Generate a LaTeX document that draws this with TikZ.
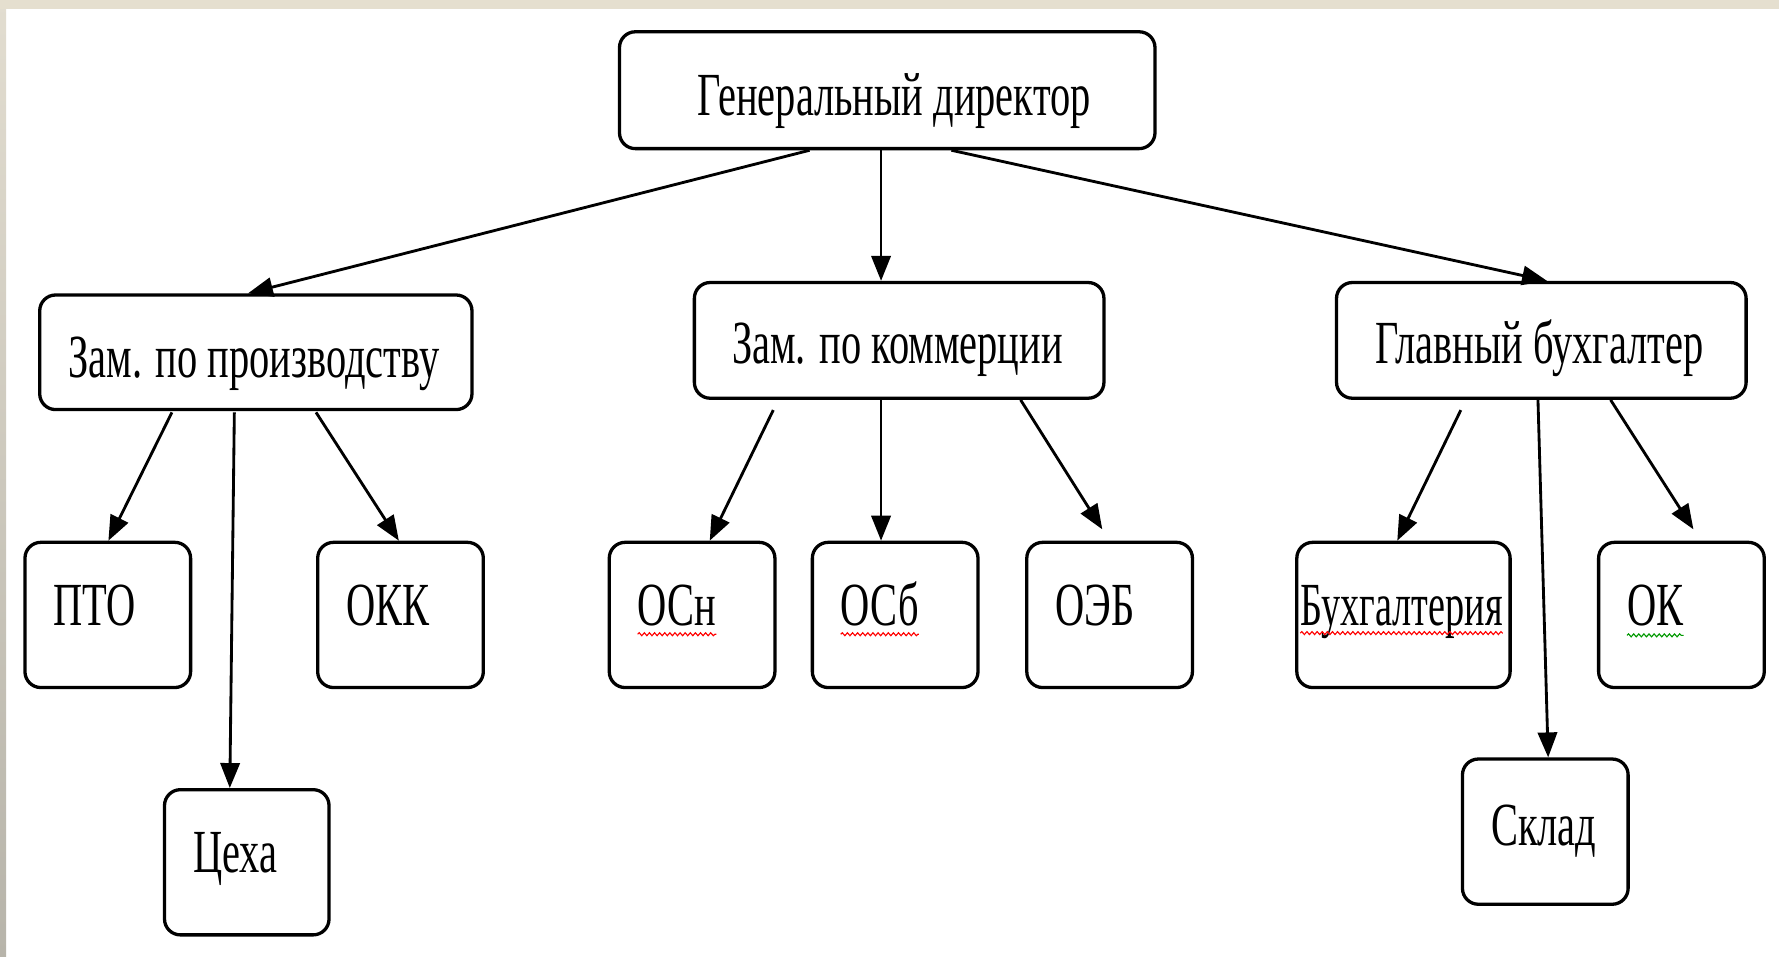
\documentclass[tikz,border=0pt]{standalone}
\usepackage{fontspec}
\setmainfont{Liberation Serif}[FakeStretch=0.66]
\usetikzlibrary{arrows.meta,calc,decorations.pathmorphing}
\definecolor{frametop}{HTML}{E5DFCF}
\definecolor{frameleftA}{HTML}{E2DDD0}
\definecolor{frameleftB}{HTML}{B7B4AA}
\tikzset{
  box/.style={draw=black,line width=2.9pt,rounded corners=14pt,fill=white,inner sep=0pt},
  lbl/.style={anchor=base west,inner sep=0pt,font=\fontsize{54}{60}\selectfont},
  conn/.style={line width=2.5pt,-{Triangle[length=22pt,width=17pt]}},
  squig/.style={line width=1pt,decorate,decoration={snake,amplitude=1.3pt,segment length=4.5pt}}
}
\begin{document}
\begin{tikzpicture}[x=1pt,y=-1pt]
\useasboundingbox (0,0) rectangle (1568,843);
\fill[white] (0,0) rectangle (1568,843);
\shade[top color=frameleftA,bottom color=frameleftB] (0,0) rectangle (5.5,843);
\fill[frametop] (0,0) rectangle (1568,7.5);

% boxes
\node[box,minimum width=472pt,minimum height=103pt] (gd) at (782,79.5) {};
\node[box,minimum width=381pt,minimum height=101pt] (zp) at (225.5,310.5) {};
\node[box,minimum width=361pt,minimum height=102pt] (zk) at (792.5,300) {};
\node[box,minimum width=361pt,minimum height=102pt] (gb) at (1358.5,300) {};
\node[box,minimum width=146pt,minimum height=128pt] (pto) at (95,542) {};
\node[box,minimum width=146pt,minimum height=128pt] (okk) at (353,542) {};
\node[box,minimum width=145pt,minimum height=128pt] (ceh) at (217.5,760) {};
\node[box,minimum width=146pt,minimum height=128pt] (osn) at (610,542) {};
\node[box,minimum width=146pt,minimum height=128pt] (osb) at (789,542) {};
\node[box,minimum width=146pt,minimum height=128pt] (oeb) at (978,542) {};
\node[box,minimum width=188pt,minimum height=128pt] (buh) at (1237,542) {};
\node[box,minimum width=146pt,minimum height=128pt] (ok) at (1482,542) {};
\node[box,minimum width=146pt,minimum height=128pt] (skl) at (1362,733) {};

% labels
\node[lbl] (gdT) at (615,102) {Генеральный директор};
\node[lbl] (zpT) at (60,333) {Зам. по производству};
\node[lbl] (zkT) at (645,320) {Зам. по коммерции};
\node[lbl] (gbT) at (1212,320) {Главный бухгалтер};
\node[lbl] (ptoT) at (47,551) {ПТО};
\node[lbl] (okkT) at (305,551) {ОКК};
\node[lbl] (cehT) at (170,769) {Цеха};
\node[lbl] (osnT) at (562,551) {ОСн};
\node[lbl] (osbT) at (741,551) {ОСб};
\node[lbl] (oebT) at (930,551) {ОЭБ};
\node[lbl] (buhT) at (1146,551) {\scalebox{0.946}[1]{Бухгалтерия}};
\node[lbl] (okT) at (1434,551) {ОК};
\node[lbl] (sklT) at (1314,745) {Склад};

% spell-check marks
\draw[squig,red] ([yshift=-8pt]osnT.base west) -- ([yshift=-8pt]osnT.base east);
\draw[squig,red] ([yshift=-8pt]osbT.base west) -- ([yshift=-8pt]osbT.base east);
\draw[squig,red] ([yshift=-7pt]buhT.base west) -- ([yshift=-7pt]buhT.base east);
\draw[squig,green!60!black] ([yshift=-9pt]okT.base west) -- ([yshift=-9pt]okT.base east);

% connectors
\draw[conn] ([xshift=169pt]gd.south west) -- ([xshift=185pt]zp.north west);
\draw[conn] ([xshift=232pt]gd.south west) -- ([xshift=166pt]zk.north west);
\draw[conn] ([xshift=294pt]gd.south west) -- ([xshift=187pt]gb.north west);

\draw[conn] ([xshift=118pt,yshift=-1pt]zp.south west) -- ([xshift=75pt]pto.north west);
\draw[conn] ([xshift=173pt,yshift=-1pt]zp.south west) -- ([xshift=59pt]ceh.north west);
\draw[conn] ([xshift=245pt,yshift=-1pt]zp.south west) -- ([xshift=73pt]okk.north west);

\draw[conn] ([xshift=71pt,yshift=-9pt]zk.south west) -- ([xshift=90pt]osn.north west);
\draw[conn] ([xshift=166pt]zk.south west) -- ([xshift=62pt]osb.north west);
\draw[conn] ([xshift=289pt]zk.south west) -- ([xshift=68pt,yshift=10pt]oeb.north west);

\draw[conn] ([xshift=111pt,yshift=-9pt]gb.south west) -- ([xshift=90pt]buh.north west);
\draw[conn] ([xshift=179pt]gb.south west) -- ([xshift=77pt]skl.north west);
\draw[conn] ([xshift=243pt]gb.south west) -- ([xshift=85pt,yshift=10pt]ok.north west);
\end{tikzpicture}
\end{document}
